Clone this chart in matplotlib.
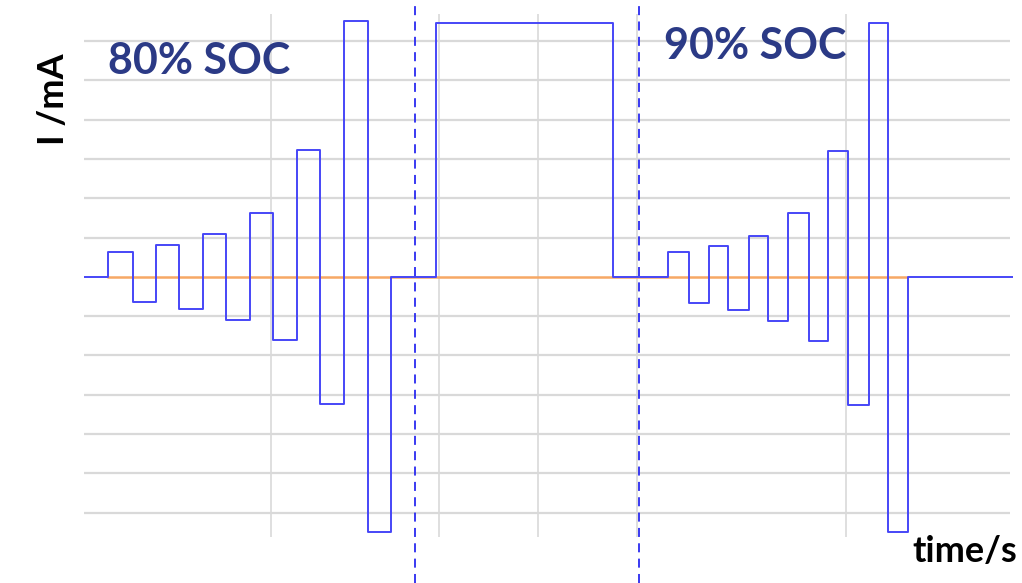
import matplotlib
matplotlib.use("Agg")
import matplotlib.pyplot as plt

# Current profile: step edges (s) and the current level (mA) held from each edge
edges_s = [0, 23.5, 49, 72, 95, 119, 142, 166, 189, 213, 236, 260, 284, 307,
           352, 529, 583.5, 605, 625, 644, 665, 684, 704, 725, 744, 764, 785,
           804, 824, 929]
current_mA = [0, 6.4, -6.4, 8.1, -8.1, 10.9, -10.9, 16.3, -16.0, 32.3, -32.3,
              65.0, -64.9, 0, 64.7, 0, 6.4, -6.6, 7.9, -8.4, 10.4, -11.2, 16.3,
              -16.3, 32.1, -32.6, 64.7, -64.9, 0, 0]

# Zero-current reference span (s)
ref_start_s, ref_end_s = 23, 824

# Grid positions
hgrid_mA = [-60, -50, -40, -30, -20, -10, 10, 20, 30, 40, 50, 60]
vgrid_s = [187, 355, 454, 553, 762]

# Boundaries between the SOC segments (s)
boundaries_s = [331, 555]

segment_labels = ["80% SOC", "90% SOC"]

W, H = 1022, 583
fig = plt.figure(figsize=(W / 100, H / 100), dpi=100)
left_px, right_px, top_px, bottom_px = 84, 1013, 14, 537
ax = fig.add_axes([left_px / W, (H - bottom_px) / H,
                   (right_px - left_px) / W, (bottom_px - top_px) / H])
ax.set_xlim(edges_s[0], edges_s[-1])
ax.set_ylim(-66.2, 66.9)
ax.axis("off")

grid_c = "#d9d9d9"
ax.hlines(hgrid_mA, 0, 926, colors=grid_c, linewidth=1.6, zorder=1)
ax.vlines(vgrid_s, -66.2, 66.9, colors=grid_c, linewidth=1.2, zorder=1)

ax.hlines(0, ref_start_s, ref_end_s, colors="#f7a865", linewidth=1.8, zorder=2)

ax.step(edges_s, current_mA, where="post", color="#4646f7", linewidth=1.4, zorder=3)

ax_h = bottom_px - top_px
for b in boundaries_s:
    ax.axvline(b, ymin=-(H - bottom_px) / ax_h, ymax=1 + top_px / ax_h,
               color="#2a2af0", linewidth=1.3, linestyle=(0, (5, 3.5)),
               clip_on=False, zorder=4)

title_c = "#2b3a86"
fig.text(108 / W, 1 - 61 / H, segment_labels[0], fontsize=31, fontweight="bold",
         family="Lato", color=title_c, ha="left", va="center")
fig.text(664 / W, 1 - 46 / H, segment_labels[1], fontsize=31, fontweight="bold",
         family="Lato", color=title_c, ha="left", va="center")

fig.text(53 / W, 1 - 99 / H, "I /mA", fontsize=26, fontweight="bold",
         family="Lato", color="black", rotation=90, ha="center", va="center")
fig.text(1017 / W, 1 - 551 / H, "time/s", fontsize=26, fontweight="bold",
         family="Lato", color="black", ha="right", va="center")

fig.savefig("out.png", dpi=100, facecolor="white")
